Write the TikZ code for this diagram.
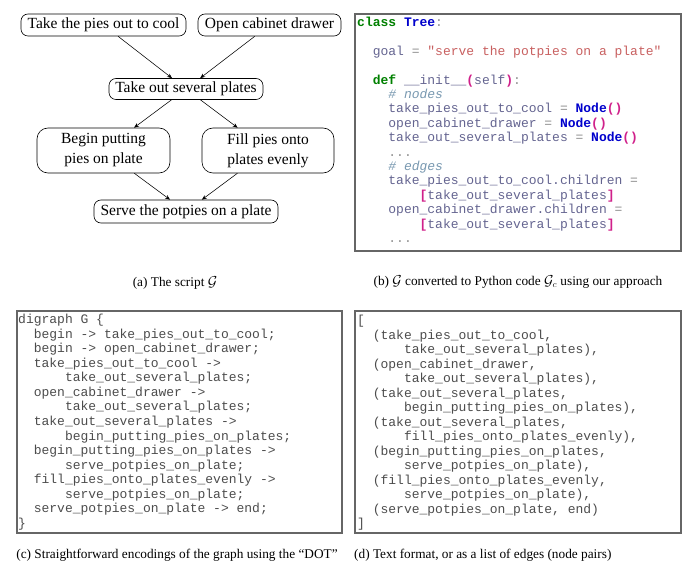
\documentclass[tikz,border=0pt]{standalone}
\usepackage{fontspec}
\setmainfont{Liberation Serif}
\setmonofont{Liberation Mono}
\usetikzlibrary{arrows.meta}
\definecolor{kwgreen}{HTML}{008000}
\definecolor{clsblue}{HTML}{0000CC}
\definecolor{idcol}{HTML}{646490}
\definecolor{strcol}{HTML}{C86060}
\definecolor{parcol}{HTML}{D0208A}
\definecolor{comcol}{HTML}{7898B0}
\definecolor{opcol}{HTML}{909090}
\definecolor{codegray}{HTML}{4C4C4C}
\definecolor{framegray}{HTML}{666666}
\newcommand\pyk[1]{\textcolor{kwgreen}{\bfseries #1}}
\newcommand\pyb[1]{\textcolor{clsblue}{\bfseries #1}}
\newcommand\pyid[1]{\textcolor{idcol}{#1}}
\newcommand\pystr[1]{\textcolor{strcol}{#1}}
\newcommand\pyp[1]{\textcolor{parcol}{\bfseries #1}}
\newcommand\pycom[1]{\textcolor{comcol}{\itshape #1}}
\newcommand\pyop[1]{\textcolor{opcol}{#1}}
\begin{document}
\begin{tikzpicture}[x=1pt,y=-1pt,
  stepbox/.style={draw=black, line width=0.6pt, rounded corners=7pt, inner sep=0pt,
    font=\fontsize{15.5}{20}\selectfont, align=center},
  conn/.style={-{Stealth[length=5pt,width=4pt]}, line width=0.55pt},
  panel/.style={draw=framegray, line width=1.3pt},
  codeline/.style={anchor=base west, inner sep=0pt, font=\fontsize{13}{14.5}\selectfont\ttfamily},
  capt/.style={inner sep=0pt, font=\fontsize{13.3}{16}\selectfont}
]
\path[use as bounding box] (0,0) rectangle (692,577);

% (a) the script
\node[stepbox, minimum width=165pt, minimum height=22pt] (a1) at (103.5,25) {Take the pies out to cool};
\node[stepbox, minimum width=143pt, minimum height=22pt] (a2) at (269.5,25) {Open cabinet drawer};
\node[stepbox, minimum width=154pt, minimum height=21pt] (a3) at (186,89) {Take out several plates};
\node[stepbox, minimum width=133pt, minimum height=45pt, rounded corners=11pt] (a4) at (103.5,150.5) {Begin putting\\pies on plate};
\node[stepbox, minimum width=132pt, minimum height=45pt, rounded corners=11pt] (a5) at (268,150.5) {Fill pies onto\\plates evenly};
\node[stepbox, minimum width=184pt, minimum height=23pt] (a6) at (186,211.5) {Serve the potpies on a plate};
\draw[conn] (a1) -- (a3);
\draw[conn] (a2) -- (a3);
\draw[conn] (a3) -- (a4);
\draw[conn] (a3) -- (a5);
\draw[conn] (a4) -- (a6);
\draw[conn] (a5) -- (a6);
\node[capt] (capa) at (175,283) {(a) The script $\mathcal{G}$};

% (b) python code
\draw[panel] (355,14) rectangle (681,251);
\node[codeline] (b0) at (357,{26.5+14.4*0}) {\pyk{class} \pyb{Tree}\pyop{:}};
\node[codeline] (b2) at ({357+2*7.8},{26.5+14.4*2}) {\pyid{goal} \pyop{=} \pystr{"serve the potpies on a plate"}};
\node[codeline] (b4) at ({357+2*7.8},{26.5+14.4*4}) {\pyk{def} \pyid{\_\_init\_\_}\pyp{(}\pyid{self}\pyp{)}\pyop{:}};
\node[codeline] (b5) at ({357+4*7.8},{26.5+14.4*5}) {\pycom{\# nodes}};
\node[codeline] (b6) at ({357+4*7.8},{26.5+14.4*6}) {\pyid{take\_pies\_out\_to\_cool} \pyop{=} \pyb{Node}\pyp{()}};
\node[codeline] (b7) at ({357+4*7.8},{26.5+14.4*7}) {\pyid{open\_cabinet\_drawer} \pyop{=} \pyb{Node}\pyp{()}};
\node[codeline] (b8) at ({357+4*7.8},{26.5+14.4*8}) {\pyid{take\_out\_several\_plates} \pyop{=} \pyb{Node}\pyp{()}};
\node[codeline] (b9) at ({357+4*7.8},{26.5+14.4*9}) {\pyop{...}};
\node[codeline] (b10) at ({357+4*7.8},{26.5+14.4*10}) {\pycom{\# edges}};
\node[codeline] (b11) at ({357+4*7.8},{26.5+14.4*11}) {\pyid{take\_pies\_out\_to\_cool.children} \pyop{=}};
\node[codeline] (b12) at ({357+8*7.8},{26.5+14.4*12}) {\pyp{[}\pyid{take\_out\_several\_plates}\pyp{]}};
\node[codeline] (b13) at ({357+4*7.8},{26.5+14.4*13}) {\pyid{open\_cabinet\_drawer.children} \pyop{=}};
\node[codeline] (b14) at ({357+8*7.8},{26.5+14.4*14}) {\pyp{[}\pyid{take\_out\_several\_plates}\pyp{]}};
\node[codeline] (b15) at ({357+4*7.8},{26.5+14.4*15}) {\pyop{...}};
\node[capt] (capb) at (518,282) {(b) $\mathcal{G}$ converted to Python code $\mathcal{G}_c$ using our approach};

% (c) DOT
\draw[panel] (17,311) rectangle (342,533);
\begin{scope}[codeline/.append style={text=codegray}]
\node[codeline] (c0) at (18,{323.5+14.57*0}) {digraph G \{};
\node[codeline] (c1) at ({18+2*7.8},{323.5+14.57*1}) {begin -> take\_pies\_out\_to\_cool;};
\node[codeline] (c2) at ({18+2*7.8},{323.5+14.57*2}) {begin -> open\_cabinet\_drawer;};
\node[codeline] (c3) at ({18+2*7.8},{323.5+14.57*3}) {take\_pies\_out\_to\_cool ->};
\node[codeline] (c4) at ({18+6*7.8},{323.5+14.57*4}) {take\_out\_several\_plates;};
\node[codeline] (c5) at ({18+2*7.8},{323.5+14.57*5}) {open\_cabinet\_drawer ->};
\node[codeline] (c6) at ({18+6*7.8},{323.5+14.57*6}) {take\_out\_several\_plates;};
\node[codeline] (c7) at ({18+2*7.8},{323.5+14.57*7}) {take\_out\_several\_plates ->};
\node[codeline] (c8) at ({18+6*7.8},{323.5+14.57*8}) {begin\_putting\_pies\_on\_plates;};
\node[codeline] (c9) at ({18+2*7.8},{323.5+14.57*9}) {begin\_putting\_pies\_on\_plates ->};
\node[codeline] (c10) at ({18+6*7.8},{323.5+14.57*10}) {serve\_potpies\_on\_plate;};
\node[codeline] (c11) at ({18+2*7.8},{323.5+14.57*11}) {fill\_pies\_onto\_plates\_evenly ->};
\node[codeline] (c12) at ({18+6*7.8},{323.5+14.57*12}) {serve\_potpies\_on\_plate;};
\node[codeline] (c13) at ({18+2*7.8},{323.5+14.57*13}) {serve\_potpies\_on\_plate -> end;};
\node[codeline] (c14) at (18,{323.5+14.57*14}) {\}};
\end{scope}
\node[capt] (capc) at (177,555) {(c) Straightforward encodings of the graph using the ``DOT''};

% (d) edge list
\draw[panel] (355,311) rectangle (681,533);
\begin{scope}[codeline/.append style={text=codegray}]
\node[codeline] (d0) at (357,{324.5+14.5*0}) {[};
\node[codeline] (d1) at ({357+2*7.8},{324.5+14.5*1}) {(take\_pies\_out\_to\_cool,};
\node[codeline] (d2) at ({357+6*7.8},{324.5+14.5*2}) {take\_out\_several\_plates),};
\node[codeline] (d3) at ({357+2*7.8},{324.5+14.5*3}) {(open\_cabinet\_drawer,};
\node[codeline] (d4) at ({357+6*7.8},{324.5+14.5*4}) {take\_out\_several\_plates),};
\node[codeline] (d5) at ({357+2*7.8},{324.5+14.5*5}) {(take\_out\_several\_plates,};
\node[codeline] (d6) at ({357+6*7.8},{324.5+14.5*6}) {begin\_putting\_pies\_on\_plates),};
\node[codeline] (d7) at ({357+2*7.8},{324.5+14.5*7}) {(take\_out\_several\_plates,};
\node[codeline] (d8) at ({357+6*7.8},{324.5+14.5*8}) {fill\_pies\_onto\_plates\_evenly),};
\node[codeline] (d9) at ({357+2*7.8},{324.5+14.5*9}) {(begin\_putting\_pies\_on\_plates,};
\node[codeline] (d10) at ({357+6*7.8},{324.5+14.5*10}) {serve\_potpies\_on\_plate),};
\node[codeline] (d11) at ({357+2*7.8},{324.5+14.5*11}) {(fill\_pies\_onto\_plates\_evenly,};
\node[codeline] (d12) at ({357+6*7.8},{324.5+14.5*12}) {serve\_potpies\_on\_plate),};
\node[codeline] (d13) at ({357+2*7.8},{324.5+14.5*13}) {(serve\_potpies\_on\_plate, end)};
\node[codeline] (d14) at (357,{324.5+14.5*14}) {]};
\end{scope}
\node[capt, anchor=west] (capd) at (354,555) {(d) Text format, or as a list of edges (node pairs)};
\end{tikzpicture}
\end{document}
